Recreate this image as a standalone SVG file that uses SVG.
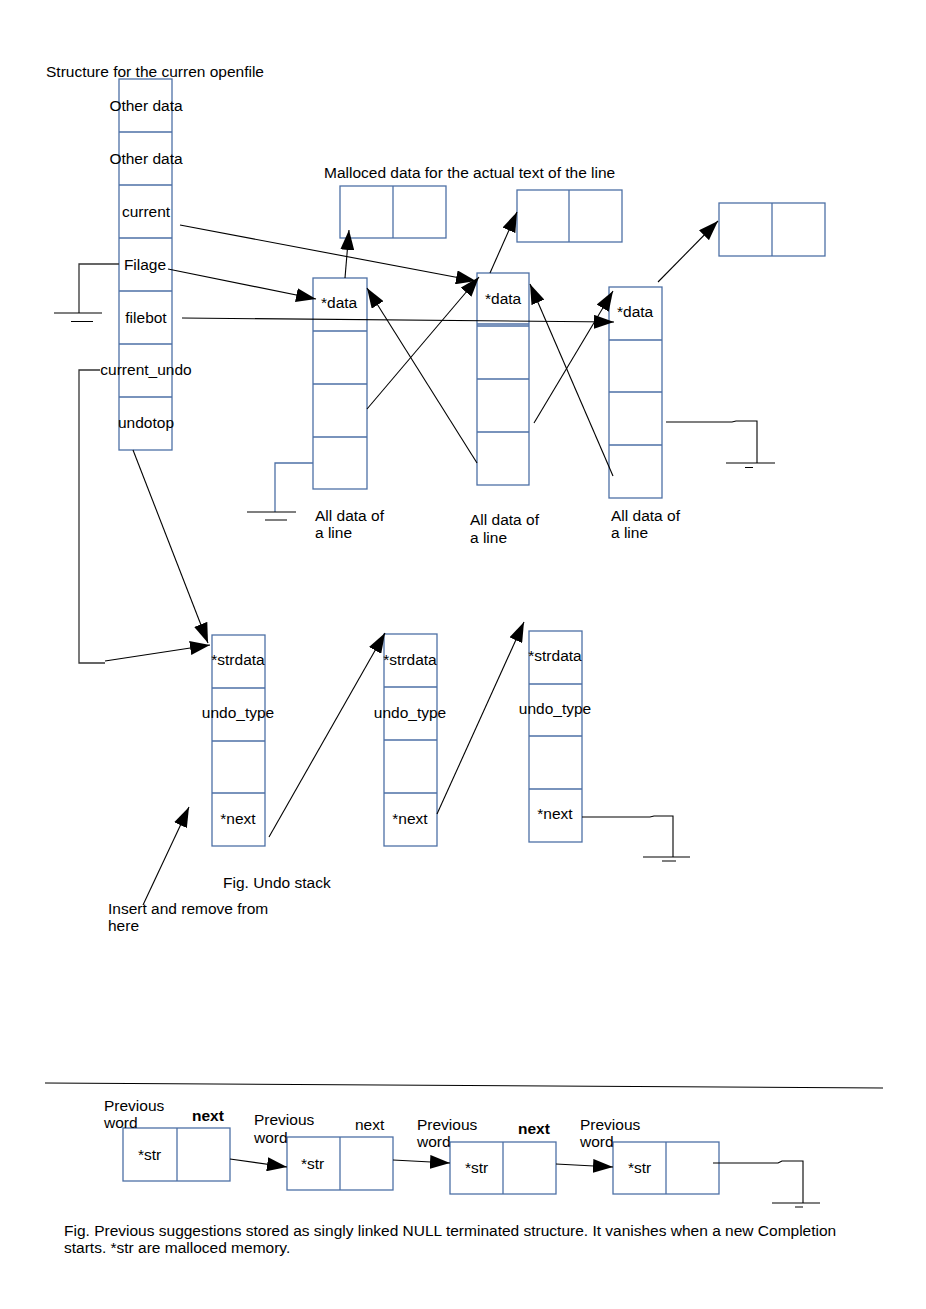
<svg xmlns="http://www.w3.org/2000/svg" width="926" height="1309" viewBox="0 0 926 1309">
<style>
text{font-family:"Liberation Sans",Arial,sans-serif;font-size:15.5px;fill:#000}
.c{text-anchor:middle}
.b{font-weight:bold}
.box{fill:none;stroke:#4d70a6;stroke-width:1.3}
.ln{fill:none;stroke:#000;stroke-width:1.1}
.a{marker-end:url(#ah)}
.gnd{fill:none;stroke:#333;stroke-width:1.3}
.gb{fill:none;stroke:#4d70a6;stroke-width:1.3}
</style>
<defs>
<marker id="ah" viewBox="0 0 20 14" refX="20" refY="7" markerWidth="20" markerHeight="14" markerUnits="userSpaceOnUse" orient="auto">
<path d="M0,0 L20,7 L0,14 z" fill="#000"/>
</marker>
</defs>
<rect width="926" height="1309" fill="#fff"/>

<text x="46" y="77">Structure for the curren openfile</text>
<text x="324" y="178">Malloced data for the actual text of the line</text>

<g id="openfile">
<rect class="box" x="119" y="79" width="53" height="371"/>
<path class="box" d="M119,132H172M119,185H172M119,238H172M119,291H172M119,344H172M119,397H172"/>
<text class="c" x="146" y="111">Other data</text>
<text class="c" x="146" y="164">Other data</text>
<text class="c" x="146" y="217">current</text>
<text class="c" x="145" y="270">Filage</text>
<text class="c" x="146" y="323">filebot</text>
<text class="c" x="146" y="375">current_undo</text>
<text class="c" x="146" y="428">undotop</text>
</g>

<g id="malloc1"><rect class="box" x="340" y="186" width="106" height="52"/><path class="box" d="M393,186V238"/></g>
<g id="malloc2"><rect class="box" x="517" y="190" width="105" height="52"/><path class="box" d="M569,190V242"/></g>
<g id="malloc3"><rect class="box" x="719" y="203" width="106" height="53"/><path class="box" d="M772,203V256"/></g>

<g id="lineA">
<rect class="box" x="313" y="278" width="54" height="211"/>
<path class="box" d="M313,331H367M313,384H367M313,437H367"/>
<text x="321" y="308">*data</text>
<text x="315" y="521">All data of</text>
<text x="315" y="538">a line</text>
</g>
<g id="lineB">
<rect class="box" x="477" y="273" width="52" height="212"/>
<path class="box" d="M477,324H529M477,326H529M477,379H529M477,432H529"/>
<text x="485" y="304">*data</text>
<text x="470" y="525">All data of</text>
<text x="470" y="543">a line</text>
</g>
<g id="lineC">
<rect class="box" x="609" y="287" width="53" height="211"/>
<path class="box" d="M609,340H662M609,392H662M609,445H662"/>
<text x="617" y="317">*data</text>
<text x="611" y="521">All data of</text>
<text x="611" y="538">a line</text>
</g>

<g id="undo1">
<rect class="box" x="212" y="635" width="53" height="211"/>
<path class="box" d="M212,688H265M212,741H265M212,793H265"/>
<text class="c" x="238" y="665">*strdata</text>
<text class="c" x="238" y="718">undo_type</text>
<text class="c" x="238" y="824">*next</text>
</g>
<g id="undo2">
<rect class="box" x="384" y="634" width="53" height="212"/>
<path class="box" d="M384,687H437M384,740H437M384,793H437"/>
<text class="c" x="410" y="665">*strdata</text>
<text class="c" x="410" y="718">undo_type</text>
<text class="c" x="410" y="824">*next</text>
</g>
<g id="undo3">
<rect class="box" x="529" y="631" width="53" height="211"/>
<path class="box" d="M529,684H582M529,736H582M529,789H582"/>
<text class="c" x="555" y="661">*strdata</text>
<text class="c" x="555" y="714">undo_type</text>
<text class="c" x="555" y="819">*next</text>
</g>
<text x="223" y="888">Fig. Undo stack</text>
<text x="108" y="914">Insert and remove from</text>
<text x="108" y="931">here</text>

<g id="prev1">
<rect class="box" x="123" y="1128" width="107" height="53"/><path class="box" d="M177,1128V1181"/>
<text x="138" y="1160">*str</text>
<text x="104" y="1111">Previous</text><text x="104" y="1128">word</text>
<text class="b" x="192" y="1121">next</text>
</g>
<g id="prev2">
<rect class="box" x="287" y="1137" width="106" height="53"/><path class="box" d="M340,1137V1190"/>
<text x="301" y="1169">*str</text>
<text x="254" y="1125">Previous</text><text x="254" y="1143">word</text>
<text x="355" y="1130">next</text>
</g>
<g id="prev3">
<rect class="box" x="450" y="1142" width="106" height="52"/><path class="box" d="M503,1142V1194"/>
<text x="465" y="1173">*str</text>
<text x="417" y="1130">Previous</text><text x="417" y="1147">word</text>
<text class="b" x="518" y="1134">next</text>
</g>
<g id="prev4">
<rect class="box" x="613" y="1142" width="106" height="52"/><path class="box" d="M666,1142V1194"/>
<text x="628" y="1173">*str</text>
<text x="580" y="1130">Previous</text><text x="580" y="1147">word</text>
</g>
<text x="64" y="1236">Fig. Previous suggestions stored as singly linked NULL terminated structure. It vanishes when a new Completion</text>
<text x="64" y="1253">starts. *str are malloced memory.</text>

<g id="connectors">
<path class="ln a" d="M180,225L476,281"/>
<path class="ln a" d="M168,269L316,299"/>
<path class="ln a" d="M182,318L614,322"/>
<path class="ln a" d="M133,450L208,643"/>
<path class="gnd" d="M100,370H79V663H105"/>
<path class="ln a" d="M105,661L210,645"/>
<path class="gnd" d="M119,264H79V313"/>
<path class="ln" d="M54,313H102M71,321.5H93"/>

<path class="ln a" d="M345,278L349,230"/>
<path class="ln a" d="M490,273L517,212"/>
<path class="ln a" d="M658,282L718,221"/>
<path class="ln a" d="M367,409L479,277"/>
<path class="ln a" d="M477,463L367,288"/>
<path class="ln a" d="M534,423L613,291"/>
<path class="ln a" d="M613,476L530,284"/>

<path class="gb" d="M313,463H275V512"/>
<path class="ln" d="M247,512H296M265,520H287"/>
<path class="ln" d="M666,422H732L736,421H757V463"/>
<path class="ln" d="M726,463H775M745,467.5H753"/>

<path class="ln a" d="M269,837L385,633"/>
<path class="ln a" d="M437,814L524,622"/>
<path class="ln" d="M582,817H650L654,816H673V857"/>
<path class="ln" d="M643,857H690M662,861H676"/>
<path class="ln a" d="M143,905L189,807"/>

<path class="ln" d="M45,1083L883,1088" stroke="#333"/>
<path class="ln a" d="M230,1159L287,1167"/>
<path class="ln a" d="M393,1160L450,1163"/>
<path class="ln a" d="M556,1164L613,1167"/>
<path class="ln" d="M713,1163H778L782,1161H803V1203"/>
<path class="ln" d="M772,1203H820M795,1207H803"/>
</g>
</svg>
